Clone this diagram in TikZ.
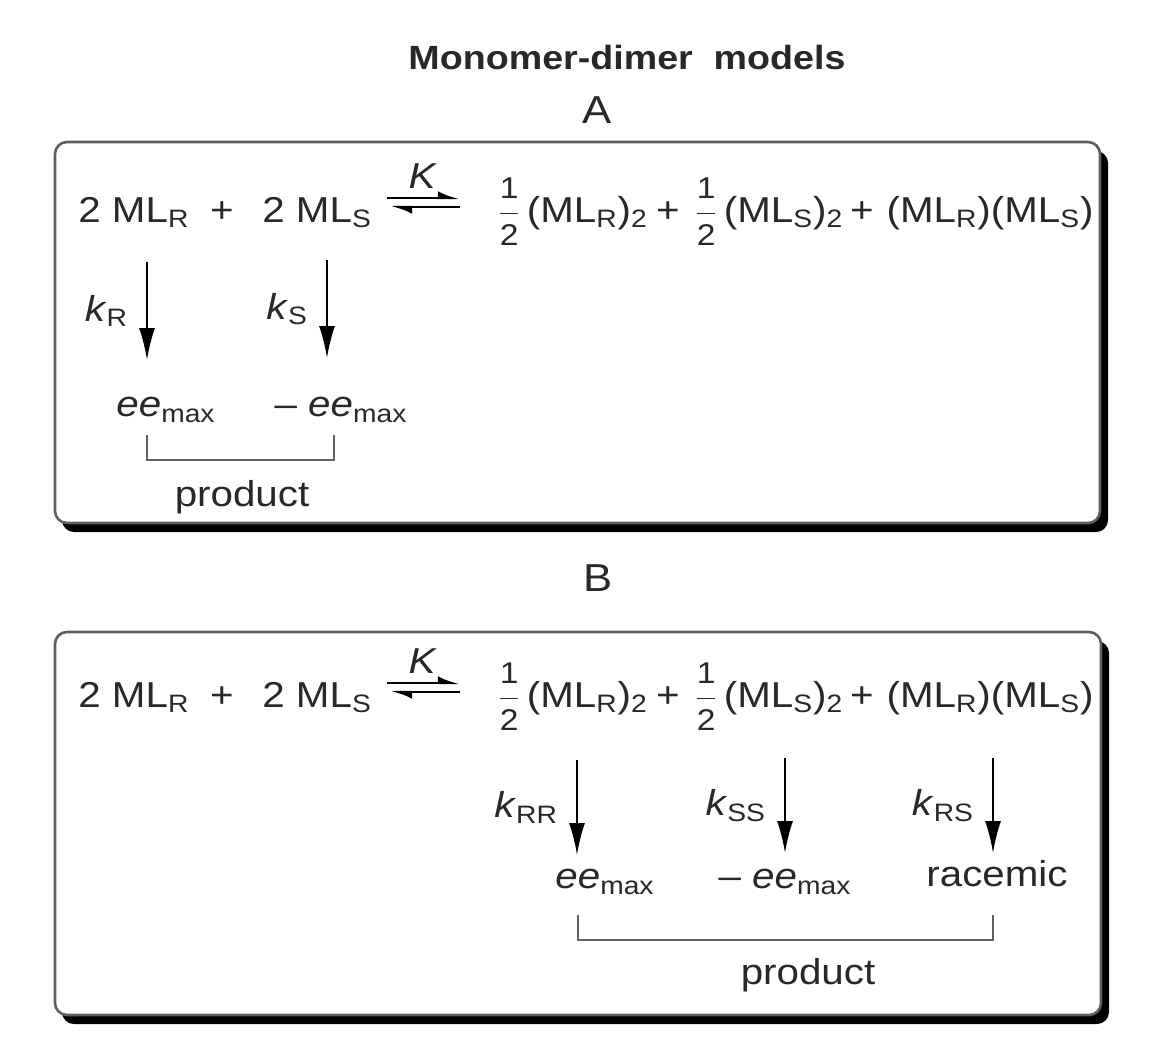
\documentclass[tikz,border=0pt]{standalone}
\usepackage{fontspec}
\setmainfont{Liberation Sans}[FakeStretch=1.12]
\usepackage{amsmath}
\usepackage{tikz}
\usetikzlibrary{arrows.meta}

\definecolor{inkgray}{RGB}{40,40,40}
\definecolor{boxgray}{RGB}{95,95,95}

\newcommand{\halfof}{\ensuremath{\genfrac{}{}{0.7pt}{0}{\text{\fontsize{15}{15}\selectfont 1}}{\text{\fontsize{15}{15}\selectfont 2}}}\kern3pt}
\newcommand{\eemax}{\textit{ee}\textsubscript{max}}

\begin{document}
\begin{tikzpicture}[x=0.5pt, y=-0.5pt,
    txt/.style = {text=inkgray, font=\fontsize{18}{20}\selectfont, inner sep=0pt},
    panel/.style = {draw=boxgray, line width=1.3pt, fill=white, rounded corners=6pt},
    drop/.style = {fill=black, rounded corners=6pt},
    rxn/.style = {-{Latex[length=16pt,width=8pt]}, line width=1pt},
    harp/.style = {-{Latex[left,length=9pt,width=7pt]}, line width=1.1pt},
    brack/.style = {draw=boxgray, line width=1.1pt}]
    \useasboundingbox (0,0) rectangle (1158,1062);

    % title
    \node[txt, font=\fontsize{16.8}{20}\selectfont\bfseries] (title) at (627,57) {Monomer-dimer\ \ models};
    \node[txt, font=\fontsize{19.5}{22}\selectfont] (labA) at (597,110) {A};
    \node[txt, font=\fontsize{19.5}{22}\selectfont] (labB) at (598,578) {B};

    % panels
    \fill[drop] (62,151) rectangle (1108,532);
    \draw[panel] (55,142) rectangle (1100,523);
    \fill[drop] (62,641) rectangle (1109,1024);
    \draw[panel] (55,632) rectangle (1101,1015);

    % equilibrium row (same in both panels)
    \foreach \p/\dy in {A/0, B/485} {
        \begin{scope}[shift={(0,\dy)}]
            \node[txt, anchor=base west] (mlR\p) at (78,222) {2 ML\textsubscript{R}};
            \node[txt, anchor=base] (plusa\p) at (222,222) {+};
            \node[txt, anchor=base west] (mlS\p) at (262,222) {2 ML\textsubscript{S}};
            \coordinate (eqa\p) at (387,198);
            \coordinate (eqb\p) at (460,198);
            \coordinate (eqc\p) at (460,207);
            \coordinate (eqd\p) at (390,207);
            \draw[harp] (eqa\p) -- (eqb\p);
            \draw[harp] (eqc\p) -- (eqd\p);
            \node[txt] (K\p) at (422,176) {\itshape K};
            \node[txt, anchor=base west] (dRR\p) at (497,222) {\halfof(ML\textsubscript{R})\textsubscript{2}};
            \node[txt, anchor=base] (plusb\p) at (668,222) {+};
            \node[txt, anchor=base west] (dSS\p) at (694,222) {\halfof(ML\textsubscript{S})\textsubscript{2}};
            \node[txt, anchor=base] (plusc\p) at (862,222) {+};
            \node[txt, anchor=base east] (dRS\p) at (1094,222) {(ML\textsubscript{R})(ML\textsubscript{S})};
        \end{scope}
    }

    % model A: monomers react
    \coordinate (kRtop) at (147,262);
    \coordinate (kRbot) at (147,360);
    \coordinate (kStop) at (327,260);
    \coordinate (kSbot) at (327,358);
    \path[rxn] (kRtop) edge node[txt, left=9pt] {\textit{k}\textsubscript{R}} (kRbot);
    \path[rxn] (kStop) edge node[txt, left=9pt] {\textit{k}\textsubscript{S}} (kSbot);

    \node[txt] (eeA) at (166,410) {\eemax};
    \node[txt] (meeA) at (341,410) {– \eemax};

    \coordinate (brA1) at (147,435);
    \coordinate (brA2) at (147,460);
    \coordinate (brA3) at (334,460);
    \coordinate (brA4) at (334,435);
    \draw[brack] (brA1) -- (brA2) -- (brA3) -- (brA4);
    \node[txt] (prodA) at (242,497) {product};

    % model B: dimers react
    \coordinate (kRRtop) at (577,760);
    \coordinate (kRRbot) at (577,855);
    \coordinate (kSStop) at (785,758);
    \coordinate (kSSbot) at (785,853);
    \coordinate (kRStop) at (993,758);
    \coordinate (kRSbot) at (993,853);
    \path[rxn] (kRRtop) edge node[txt, left=9pt] {\textit{k}\textsubscript{RR}} (kRRbot);
    \path[rxn] (kSStop) edge node[txt, left=9pt] {\textit{k}\textsubscript{SS}} (kSSbot);
    \path[rxn] (kRStop) edge node[txt, left=9pt] {\textit{k}\textsubscript{RS}} (kRSbot);

    \node[txt] (eeB) at (605,882) {\eemax};
    \node[txt] (meeB) at (785,882) {– \eemax};
    \node[txt] (racB) at (997,874) {racemic};

    \coordinate (brB1) at (578,915);
    \coordinate (brB2) at (578,940);
    \coordinate (brB3) at (993,940);
    \coordinate (brB4) at (993,915);
    \draw[brack] (brB1) -- (brB2) -- (brB3) -- (brB4);
    \node[txt] (prodB) at (808,975) {product};
\end{tikzpicture}
\end{document}
